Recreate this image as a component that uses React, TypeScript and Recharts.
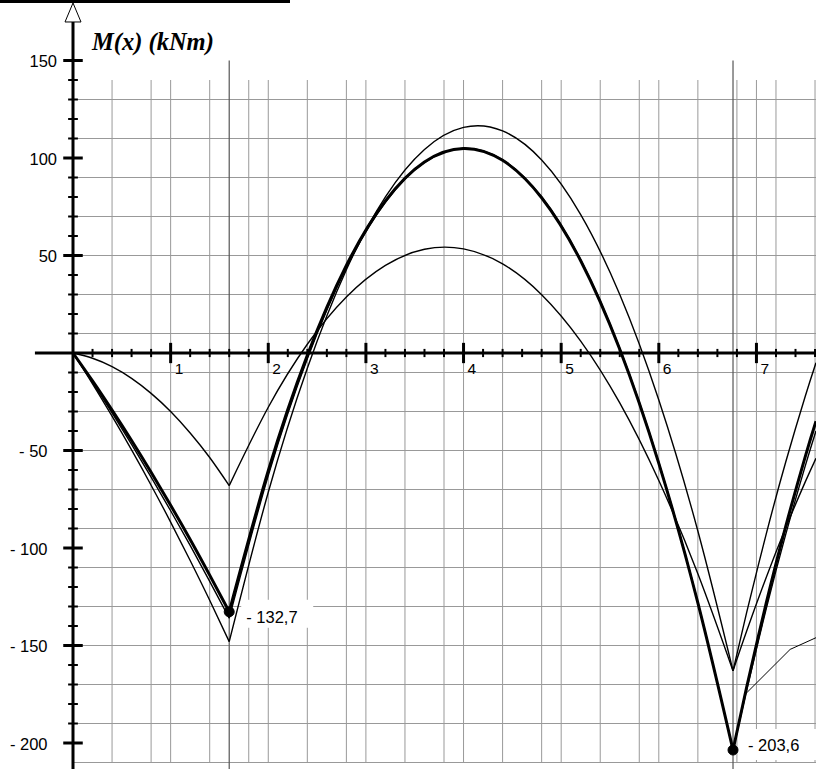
import React from "react";
import {
  CartesianGrid,
  ComposedChart,
  Line,
  ReferenceDot,
  ReferenceLine,
  XAxis,
  YAxis
} from "recharts";

// x positions (m) and bending moment values (kNm)
const span1X = [0, 0.2, 0.4, 0.6, 0.8, 1.0, 1.2, 1.4, 1.6];
const span2X = [1.6, 2.0, 2.4, 2.8, 3.2, 3.6, 4.0, 4.4, 4.8, 5.2, 5.6, 6.0, 6.4, 6.76];
const span3X = [6.76, 6.9, 7.1, 7.3, 7.5, 7.61];
const tailX = [6.885, 7.345, 7.61];

const thick1 = [0, -14.3, -29.3, -44.9, -61.2, -78.1, -95.6, -113.9, -132.7];
const thick2 = [-132.7, -60.4, -1.2, 44.9, 78.0, 98.0, 104.9, 98.8, 79.6, 47.3, 1.9, -56.6, -128.1, -203.6];
const thick3 = [-203.6, -171.3, -128.3, -88.9, -53.1, -35.0];

const caseA1 = [0, -15.8, -32.4, -49.7, -67.8, -86.7, -106.4, -126.8, -148];
const caseA2 = [-148, -71.4, -7.8, 42.7, 80.1, 104.4, 115.7, 113.9, 99.0, 71.0, 30.0, -24.1, -91.3, -163];
const caseA3 = [-163, -133.0, -92.9, -55.9, -22.2, -5.0];

const caseB1 = [0, -2.7, -7.0, -13.0, -20.7, -30.0, -41.0, -53.6, -68.0];
const caseB2 = [-68, -27.8, 4.5, 28.7, 44.9, 53.2, 53.4, 45.7, 29.9, 6.1, -25.6, -65.4, -113.2, -163];
const caseB3 = [-163, -142.6, -115.1, -89.6, -66.1, -54.0];

const caseD1 = [0, -15.1, -30.7, -46.9, -63.6, -80.9, -98.7, -117.1, -136];
const caseD2 = [-136, -62.9, -3.0, 43.7, 77.3, 97.7, 105.0, 99.1, 80.0, 47.8, 2.4, -56.1, -127.8, -203.6];
const caseD3 = [-203.6, -172.7, -131.2, -93.0, -57.9, -40.0];

const tail = [-175, -152, -146];

const supportsX = [1.6, 6.76];
const peaks = [
  { x: 1.6, m: -132.7, text: "- 132,7" },
  { x: 6.76, m: -203.6, text: "- 203,6" }
];

const xMajor = [1, 2, 3, 4, 5, 6, 7];
const xTickLabels = ["1", "2", "3", "4", "5", "6", "7"];
const yMajor = [150, 100, 50, -50, -100, -150, -200];
const yTickLabels = ["150", "100", "50", "- 50", "- 100", "- 150", "- 200"];

const gridX = Array.from({ length: 38 }, (_, i) => +(0.2 * (i + 1)).toFixed(1));
const gridY = Array.from({ length: 36 }, (_, i) => 140 - 10 * i);
const xMinor = gridX.filter((v) => Math.abs(v - Math.round(v)) > 0.01);
const yMinor = Array.from({ length: 34 }, (_, i) => 140 - 10 * i).filter((v) => v % 50 !== 0);

const FONT = "'Liberation Sans', Arial, sans-serif";

const zip = (xs: number[], ms: number[]) => xs.map((x, i) => ({ x, m: ms[i] }));

function Txt(props: any) {
  const { viewBox, text, ox = 0, oy = 0, anchor = "start", size = 15 } = props;
  if (!viewBox) return null;
  return (
    <text x={viewBox.x + ox} y={viewBox.y + oy} textAnchor={anchor} fontSize={size} fontFamily={FONT} fill="#000">
      {text}
    </text>
  );
}

function Title(props: any) {
  const { viewBox } = props;
  if (!viewBox) return null;
  return (
    <text
      x={viewBox.x + 19}
      y={viewBox.y - 11}
      fontSize={24.5}
      fontFamily="'Liberation Serif', 'Times New Roman', serif"
      fontWeight="bold"
      fontStyle="italic"
      fill="#000"
    >
      M(x) (kNm)
    </text>
  );
}

function ValueTag(props: any) {
  const { viewBox, text, box, tx, ty } = props;
  if (!viewBox) return null;
  const { x, y } = viewBox;
  return (
    <g>
      <rect x={x + box[0]} y={y + box[1]} width={box[2]} height={box[3]} fill="#fff" />
      <text x={x + tx} y={y + ty} fontSize={16.5} fontFamily={FONT} fill="#000">
        {text}
      </text>
    </g>
  );
}

function Arrow(props: any) {
  const { cx, cy } = props;
  return <path d={`M${cx},${cy} L${cx - 8},${cy + 19} L${cx + 8},${cy + 19} Z`} fill="#fff" stroke="#000" strokeWidth={1} />;
}

const thin = { stroke: "#000", strokeWidth: 1.4, dot: false, isAnimationActive: false, activeDot: false } as const;
const bold = { stroke: "#000", strokeWidth: 3, dot: false, isAnimationActive: false, activeDot: false } as const;

const tagStyle = [
  { box: [12, -12, 72, 28], tx: 17, ty: 11.5 },
  { box: [11, -21, 74, 31], tx: 15, ty: 0.5 }
];

export default function App() {
  return (
    <div style={{ position: "absolute", left: 0, top: 0, width: 816, height: 769, background: "#fff" }}>
      <ComposedChart width={816} height={769} margin={{ top: 80, right: 0, bottom: 6.5, left: 73 }}>
        <XAxis type="number" dataKey="x" domain={[0, 7.61]} allowDataOverflow hide />
        <YAxis type="number" domain={[-210, 140]} allowDataOverflow hide />
        <CartesianGrid stroke="#999" strokeWidth={1} verticalValues={gridX} horizontalValues={gridY} />

        {supportsX.map((x) => (
          <ReferenceLine
            key={"s" + x}
            segment={[{ x, y: 150 }, { x, y: -216 }]}
            ifOverflow="visible"
            stroke="#555"
            strokeWidth={1.2}
          />
        ))}

        {/* axes */}
        <ReferenceLine segment={[{ x: -0.39, y: 0 }, { x: 7.61, y: 0 }]} ifOverflow="visible" stroke="#000" strokeWidth={3} />
        <ReferenceLine segment={[{ x: 0, y: 170 }, { x: 0, y: -216 }]} ifOverflow="visible" stroke="#000" strokeWidth={3} />
        <ReferenceDot x={0} y={179.5} r={1} ifOverflow="visible" shape={Arrow} />

        {xMinor.map((x) => (
          <ReferenceLine key={"xm" + x} segment={[{ x, y: 2.1 }, { x, y: -2.1 }]} ifOverflow="visible" stroke="#000" strokeWidth={2} />
        ))}
        {xMajor.map((x) => (
          <ReferenceLine key={"xM" + x} segment={[{ x, y: 5.2 }, { x, y: -5.2 }]} ifOverflow="visible" stroke="#000" strokeWidth={3} />
        ))}
        {yMinor.map((y) => (
          <ReferenceLine key={"ym" + y} segment={[{ x: -0.05, y }, { x: 0.05, y }]} ifOverflow="visible" stroke="#000" strokeWidth={2} />
        ))}
        {yMajor.map((y) => (
          <ReferenceLine key={"yM" + y} segment={[{ x: -0.1, y }, { x: 0.1, y }]} ifOverflow="visible" stroke="#000" strokeWidth={3} />
        ))}

        {/* moment curves */}
        <Line data={zip(span1X, caseB1)} dataKey="m" type="natural" {...thin} />
        <Line data={zip(span2X, caseB2)} dataKey="m" type="natural" {...thin} />
        <Line data={zip(span3X, caseB3)} dataKey="m" type="natural" {...thin} />
        <Line data={zip(span1X, caseA1)} dataKey="m" type="natural" {...thin} />
        <Line data={zip(span2X, caseA2)} dataKey="m" type="natural" {...thin} />
        <Line data={zip(span3X, caseA3)} dataKey="m" type="natural" {...thin} />
        <Line data={zip(span1X, caseD1)} dataKey="m" type="natural" {...thin} />
        <Line data={zip(span2X, caseD2)} dataKey="m" type="natural" {...thin} />
        <Line data={zip(span3X, caseD3)} dataKey="m" type="natural" {...thin} />
        <Line data={zip(tailX, tail)} dataKey="m" type="linear" {...thin} strokeWidth={1} />
        <Line data={zip(span1X, thick1)} dataKey="m" type="natural" {...bold} />
        <Line data={zip(span2X, thick2)} dataKey="m" type="natural" {...bold} />
        <Line data={zip(span3X, thick3)} dataKey="m" type="natural" {...bold} />

        {/* tick labels */}
        {xMajor.map((x, i) => (
          <ReferenceDot key={"xl" + x} x={x} y={0} r={0} ifOverflow="visible" fill="none" stroke="none"
            label={<Txt text={xTickLabels[i]} ox={4} oy={21} size={15.5} />} />
        ))}
        {yMajor.map((y, i) => (
          <ReferenceDot key={"yl" + y} x={0} y={y} r={0} ifOverflow="visible" fill="none" stroke="none"
            label={<Txt text={yTickLabels[i]} ox={y > 0 ? -16 : -25.5} oy={6.5} anchor="end" size={16.5} />} />
        ))}
        <ReferenceDot x={0} y={150} r={0} ifOverflow="visible" fill="none" stroke="none" label={<Title />} />

        {peaks.map((p, i) => (
          <ReferenceDot key={"pk" + i} x={p.x} y={p.m} r={0} ifOverflow="visible" fill="none" stroke="none"
            label={<ValueTag text={p.text} {...tagStyle[i]} />} />
        ))}
        {peaks.map((p, i) => (
          <ReferenceDot key={"pd" + i} x={p.x} y={p.m} r={5} ifOverflow="visible" fill="#000" stroke="#000" />
        ))}
      </ComposedChart>
      <div style={{ position: "absolute", left: 0, top: 0, width: 290, height: 3, background: "#000" }} />
    </div>
  );
}
